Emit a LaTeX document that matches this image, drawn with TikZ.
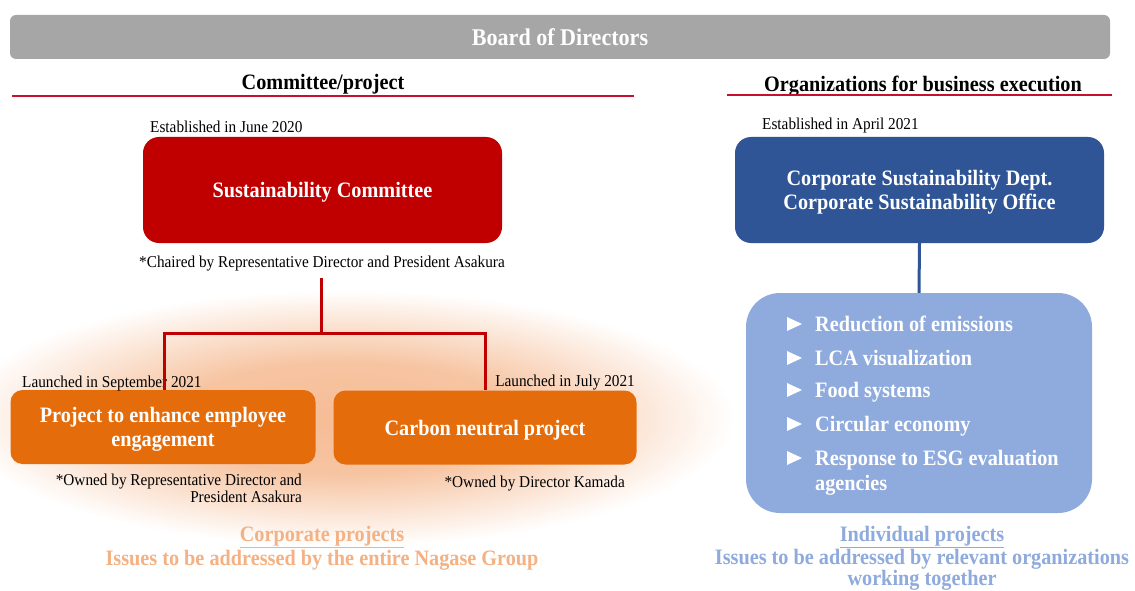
\documentclass[tikz,border=0pt]{standalone}
\usepackage{fontspec}
\setmainfont{Liberation Serif}[FakeStretch=0.92]
\usetikzlibrary{positioning}
\usetikzlibrary{calc}

\definecolor{boardgray}{HTML}{A6A6A6}
\definecolor{rulered}{HTML}{C8102E}
\definecolor{commred}{HTML}{C00000}
\definecolor{projorange}{HTML}{E46C0A}
\definecolor{glowpeach}{HTML}{F4B183}
\definecolor{deptblue}{HTML}{2F5597}
\definecolor{itemblue}{HTML}{8FAADC}

\pgfdeclareradialshading{glowshade}{\pgfpoint{0bp}{0bp}}{%
  color(0bp)=(glowpeach!85!white); color(11bp)=(glowpeach!75!white);
  color(25bp)=(white); color(50bp)=(white)}

\newcommand{\boxfont}{\fontsize{22}{23.5}\selectfont\bfseries}
\newcommand{\notefont}{\fontsize{16.6}{17}\selectfont}

\tikzset {
  % grey bar on top
  board/.style = {
    fill = boardgray,
    rounded corners = 6pt,
    minimum width = 1100pt,
    minimum height = 44pt,
    text = white,
    text depth = 0pt,
    font = \fontsize{24}{26}\selectfont\bfseries
  },
  heading/.style = {
    anchor = base,
    inner sep = 0,
    font = \fontsize{22}{24}\selectfont\bfseries
  },
  rule/.style = {
    draw = rulered,
    line width = 2pt
  },
  % coloured boxes
  unit box/.style = {
    text = white,
    align = center,
    text depth = 0pt,
    font = \boxfont
  },
  committee/.style = {
    unit box,
    fill = commred,
    rounded corners = 16pt,
    minimum width = 359pt,
    minimum height = 106pt
  },
  project/.style = {
    unit box,
    fill = projorange,
    rounded corners = 12pt,
    minimum width = 305pt,
    minimum height = 74pt
  },
  dept/.style = {
    unit box,
    fill = deptblue,
    rounded corners = 16pt,
    minimum width = 369pt,
    minimum height = 106pt
  },
  item panel/.style = {
    fill = itemblue,
    rounded corners = 34pt,
    minimum width = 346pt,
    minimum height = 220pt
  },
  item text/.style = {
    anchor = base west,
    inner sep = 0,
    text = white,
    font = \boxfont
  },
  % small notes
  note/.style = {
    inner sep = 0,
    font = \notefont
  },
  caption/.style = {
    anchor = base,
    inner sep = 0,
    font = \fontsize{22}{24}\selectfont\bfseries
  },
  redlink/.style = {
    draw = commred,
    line width = 3pt
  },
  bluelink/.style = {
    draw = deptblue,
    line width = 3pt
  }
}

\begin{document}
\begin{tikzpicture}[x=1pt, y=-1pt]
  \useasboundingbox[fill=white] (0,0) rectangle (1135,591);
  % soft glow behind the corporate projects
  \shade[shading=glowshade] (345,418) ellipse [x radius=390, y radius=128];

  \node[board] (board) at (560,37) {Board of Directors};

  \node[heading] (left-head) at (323,90) {Committee/project};
  \node[heading] (right-head) at (923,91.5) {Organizations for business execution};
  \draw[rule] (12,96) -- (634,96);
  \draw[rule] (727,95) -- (1112,95);

  % committee side
  \node[committee] (committee) at (322.5,190) {Sustainability Committee};
  \node[note, anchor=base west] (committee-date) at (150,132) {Established in June 2020};
  \node[note, anchor=base] (committee-chair) at (322,267)
    {*Chaired by Representative Director and President Asakura};

  \node[project] (engage) at (163,427) {Project to enhance employee\\engagement};
  \node[project, minimum width=303pt] (carbon) at (485,427.5) {Carbon neutral project};
  \node[note, anchor=base west] (engage-date) at (22,387) {Launched in September 2021};
  \node[note, anchor=base east] (carbon-date) at (635,386) {Launched in July 2021};
  \node[note, anchor=north east, align=right] (engage-owner) at (302,474)
    {*Owned by Representative Director and\\President Asakura};
  \node[note, anchor=base east] (carbon-owner) at (625,487) {*Owned by Director Kamada};

  \coordinate (fork-top) at (321,278);
  \coordinate (fork) at (321,333);
  \draw[redlink] (fork-top) -- (fork);
  \draw[redlink] (engage.north -| 164,0) |- (fork) -| (carbon.north);

  \node[caption, text=glowpeach] (corp-title) at (322,541.5)
    {\underline{Corporate projects}};
  \node[caption, text=glowpeach] (corp-issues) at (322,565)
    {Issues to be addressed by the entire Nagase Group};

  % business execution side
  \node[dept] (dept) at (919.5,190)
    {Corporate Sustainability Dept.\\Corporate Sustainability Office};
  \node[note, anchor=base west] (dept-date) at (762,130) {Established in April 2021};
  \node[item panel] (panel) at (919,403) {};
  \draw[bluelink] (dept.south) -- (panel.north);

  \foreach \y/\txt [count=\i] in {331/Reduction of emissions, 365/LCA visualization,
      397/Food systems, 431/Circular economy, 465/Response to ESG evaluation} {
    \node[item text] (item\i) at (815,\y) {\txt};
    \fill[white] ($(item\i.base west)+(-28,-14)$) -- ++(15,7) -- ++(-15,7) -- cycle;
  }
  \node[item text] (item5b) at ($(item5.base west)+(0,25)$) {agencies};

  \node[caption, text=itemblue] (indiv-title) at (922,541)
    {\underline{Individual projects}};
  \node[caption, text=itemblue] (indiv-issues) at (922,564)
    {Issues to be addressed by relevant organizations};
  \node[caption, text=itemblue] (indiv-more) at (922,585) {working together};
\end{tikzpicture}
\end{document}
